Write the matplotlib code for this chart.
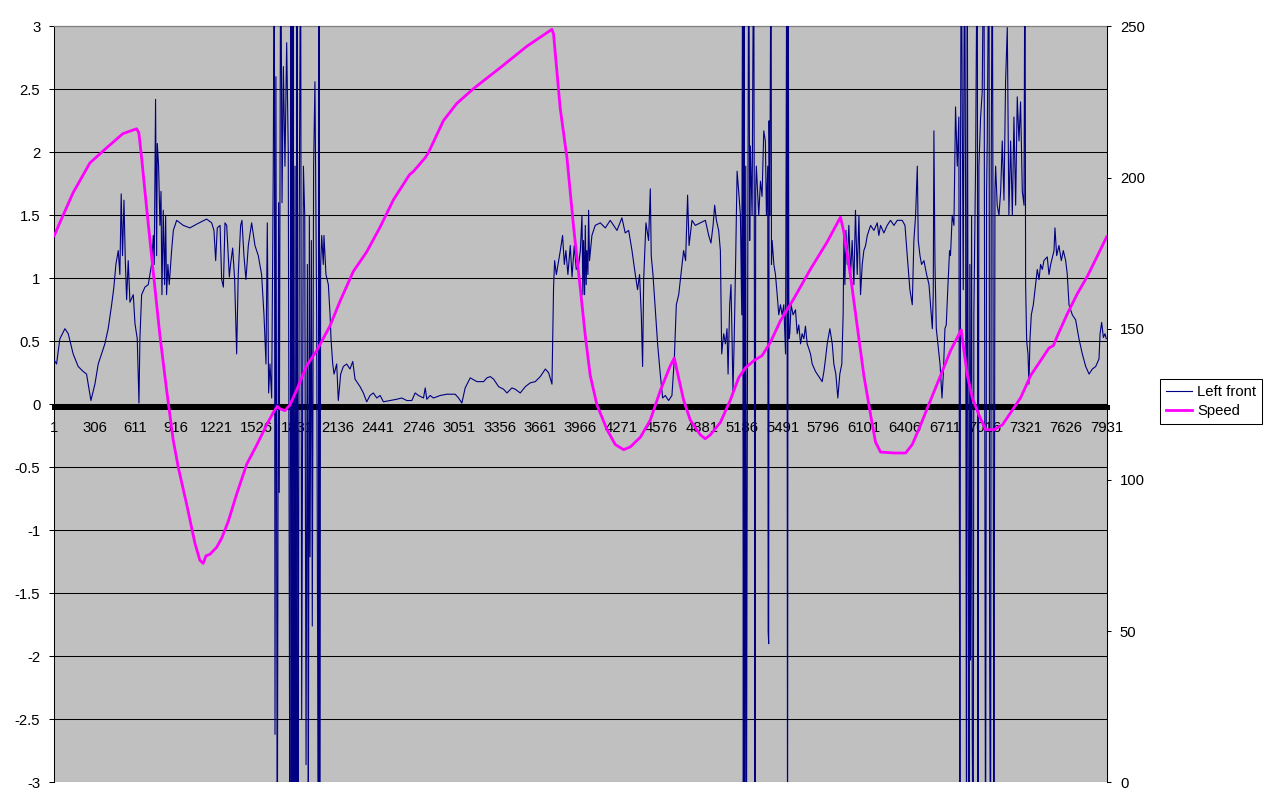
"""
plot.py  -  Left front sensor trace vs. Speed (Excel-style dual axis line chart).
"""

import matplotlib
matplotlib.use("Agg")
import matplotlib.pyplot as plt

# ── data (sample index, value) ───────────────────────────────────────────────

LEFT_FRONT_IDX = [
    1, 18, 43, 81, 106, 143, 181, 219, 244, 277, 307, 332, 357, 382, 407, 433,
    450, 465, 483, 495, 505, 515, 526, 536, 546, 558, 571, 596, 609, 626, 639,
    646, 659, 684, 709, 734, 747, 754, 764, 772, 777, 787, 797, 805, 812, 822,
    832, 840, 847, 857, 867, 885, 898, 923, 973, 1023, 1074, 1149, 1187, 1204,
    1217, 1229, 1250, 1262, 1275, 1287, 1300, 1320, 1329, 1345, 1360, 1375,
    1387, 1405, 1415, 1430, 1445, 1463, 1488, 1513, 1538, 1563, 1581, 1596,
    1606, 1616, 1626, 1639, 1651, 1659, 1664, 1671, 1681, 1691, 1696, 1707,
    1717, 1727, 1739, 1752, 1764, 1777, 1784, 1792, 1800, 1807, 1815, 1822,
    1830, 1837, 1847, 1857, 1865, 1878, 1888, 1898, 1908, 1915, 1923, 1928,
    1938, 1945, 1955, 1965, 1978, 1991, 1996, 2001, 2008, 2016, 2028, 2033,
    2048, 2066, 2079, 2086, 2099, 2109, 2129, 2141, 2159, 2179, 2204, 2229,
    2250, 2267, 2305, 2330, 2355, 2380, 2405, 2431, 2456, 2481, 2531, 2581,
    2619, 2657, 2695, 2720, 2745, 2783, 2796, 2808, 2833, 2858, 2909, 2959,
    3022, 3047, 3072, 3097, 3135, 3185, 3236, 3261, 3286, 3311, 3349, 3386,
    3412, 3449, 3474, 3512, 3550, 3587, 3625, 3663, 3701, 3726, 3751, 3763,
    3771, 3784, 3801, 3814, 3831, 3844, 3856, 3871, 3889, 3902, 3919, 3934,
    3952, 3965, 3977, 3984, 3989, 3997, 4002, 4009, 4014, 4022, 4027, 4034,
    4052, 4077, 4115, 4153, 4190, 4241, 4278, 4303, 4329, 4354, 4379, 4396,
    4411, 4424, 4434, 4442, 4459, 4479, 4492, 4499, 4512, 4522, 4532, 4547,
    4567, 4585, 4605, 4630, 4655, 4673, 4688, 4706, 4723, 4743, 4758, 4773,
    4784, 4806, 4831, 4869, 4907, 4932, 4949, 4965, 4977, 4990, 5007, 5020,
    5030, 5045, 5058, 5070, 5078, 5090, 5100, 5108, 5115, 5125, 5135, 5146,
    5158, 5171, 5181, 5188, 5193, 5198, 5203, 5211, 5216, 5221, 5229, 5234,
    5241, 5246, 5259, 5271, 5276, 5281, 5286, 5291, 5309, 5322, 5334, 5347,
    5359, 5367, 5377, 5380, 5384, 5387, 5392, 5402, 5405, 5410, 5423, 5435,
    5448, 5460, 5473, 5485, 5498, 5511, 5521, 5526, 5531, 5536, 5543, 5553,
    5568, 5586, 5599, 5611, 5624, 5636, 5649, 5661, 5674, 5687, 5699, 5712,
    5737, 5762, 5787, 5800, 5812, 5825, 5845, 5863, 5875, 5890, 5905, 5920,
    5935, 5945, 5951, 5958, 5966, 5976, 5988, 6001, 6013, 6026, 6038, 6051,
    6064, 6076, 6089, 6101, 6114, 6127, 6152, 6177, 6202, 6214, 6227, 6252,
    6277, 6302, 6328, 6353, 6390, 6411, 6428, 6448, 6466, 6478, 6491, 6504,
    6511, 6524, 6536, 6554, 6574, 6592, 6609, 6617, 6624, 6629, 6637, 6647,
    6659, 6675, 6690, 6700, 6712, 6722, 6735, 6747, 6754, 6767, 6780, 6792,
    6805, 6817, 6825, 6830, 6835, 6842, 6850, 6860, 6868, 6875, 6880, 6893,
    6900, 6905, 6913, 6918, 6925, 6930, 6943, 6956, 6961, 6968, 6981, 6993,
    7006, 7018, 7026, 7031, 7044, 7049, 7056, 7061, 7069, 7074, 7081, 7089,
    7094, 7106, 7119, 7132, 7144, 7157, 7169, 7182, 7194, 7207, 7220, 7232,
    7245, 7257, 7270, 7282, 7295, 7308, 7315, 7320, 7328, 7338, 7345, 7353,
    7363, 7378, 7395, 7408, 7421, 7433, 7446, 7458, 7483, 7496, 7509, 7534,
    7541, 7554, 7571, 7589, 7604, 7622, 7634, 7647, 7672, 7697, 7722, 7747,
    7773, 7798, 7823, 7848, 7873, 7881, 7893, 7906, 7918, 7928,
]

LEFT_FRONT_VAL = [
    0.35, 0.32, 0.52, 0.60, 0.56, 0.40, 0.30, 0.26, 0.24, 0.03, 0.16, 0.32, 0.40, 0.48, 0.60, 0.79,
    0.93, 1.11, 1.22, 1.03, 1.67, 1.18, 1.62, 1.14, 0.83, 1.14, 0.81, 0.87, 0.64, 0.52, 0.01,
    0.52, 0.87, 0.93, 0.95, 1.11, 1.34, 1.11, 2.42, 1.18, 2.07, 1.89, 1.42, 1.69, 0.87, 1.54,
    0.95, 1.50, 0.87, 1.11, 0.95, 1.22, 1.38, 1.46, 1.42, 1.40, 1.43, 1.47, 1.44, 1.38,
    1.14, 1.40, 1.42, 0.99, 0.93, 1.44, 1.42, 1.01, 1.11, 1.24, 0.99, 0.40,
    1.03, 1.42, 1.46, 1.18, 0.99, 1.26, 1.44, 1.26, 1.18, 1.03, 0.71, 0.32,
    1.44, 0.09, 0.32, 0.05, 1.89, 4, -2.62, 2.60, -4, 1.60, -0.70, 4,
    1.60, 2.68, 1.89, 2.87, 2.01, -4, 4, -4, 4, -4, 1.89, -4,
    4, -4, 1.50, 4, -2.50, 1.89, 1.50, -2.86, 1.11, -3.50, 1.50, -1.21,
    1.30, -1.76, 1.89, 2.56, 0.71, -4, 4, -4, 1.11, 1.34, 1.11, 1.34,
    1.03, 0.95, 0.71, 0.52, 0.32, 0.24, 0.32, 0.03, 0.24, 0.30, 0.32, 0.28,
    0.34, 0.20, 0.14, 0.09, 0.02, 0.07, 0.09, 0.05, 0.07, 0.02, 0.03, 0.04,
    0.05, 0.03, 0.03, 0.09, 0.07, 0.05, 0.13, 0.04, 0.07, 0.05, 0.07, 0.08,
    0.08, 0.05, 0.01, 0.13, 0.21, 0.18, 0.18, 0.21, 0.22, 0.20, 0.14, 0.12,
    0.09, 0.13, 0.12, 0.09, 0.14, 0.17, 0.18, 0.22, 0.28, 0.25, 0.16, 0.93,
    1.14, 1.03, 1.14, 1.22, 1.34, 1.11, 1.22, 1.03, 1.26, 1.01, 1.26, 1.07,
    1.11, 1.22, 1.50, 0.87, 1.30, 0.87, 1.42, 0.95, 1.22, 1.03, 1.54, 1.14,
    1.34, 1.42, 1.44, 1.40, 1.46, 1.38, 1.48, 1.36, 1.38, 1.22, 1.03, 0.91,
    1.03, 0.71, 0.30, 0.99, 1.44, 1.30, 1.71, 1.18, 1.03, 0.87, 0.71, 0.48,
    0.24, 0.05, 0.07, 0.03, 0.07, 0.36, 0.79, 0.87, 1.03, 1.22, 1.14, 1.66,
    1.26, 1.46, 1.42, 1.44, 1.46, 1.34, 1.28, 1.42, 1.58, 1.46, 1.38, 1.22,
    0.40, 0.56, 0.48, 0.60, 0.24, 0.79, 0.95, 0.52, 0.09, 0.56, 1.14, 1.85,
    1.69, 1.50, 0.71, 4, -4, 4, -4, 1.89, -4, -1.00, 2.28, 4,
    1.30, 2.05, 1.50, 4, 1.11, -4, 1.69, 1.89, 1.50, 1.77, 1.65, 2.17,
    2.09, 1.50, 1.89, -1.80, -1.90, 2.25, 1.50, 4, 1.11, 1.30, 1.11, 1.03,
    0.87, 0.71, 0.79, 0.71, 0.79, 0.40, 4, -4, 4, 0.52, 0.56, 0.79,
    0.71, 0.75, 0.56, 0.63, 0.48, 0.56, 0.52, 0.62, 0.48, 0.44, 0.40, 0.32,
    0.26, 0.22, 0.18, 0.26, 0.36, 0.48, 0.60, 0.48, 0.32, 0.24, 0.05, 0.24,
    0.32, 0.71, 1.34, 0.95, 1.38, 1.11, 1.42, 1.03, 1.30, 0.95, 1.54, 1.03,
    1.50, 0.87, 1.11, 1.22, 1.26, 1.34, 1.42, 1.38, 1.44, 1.34, 1.42, 1.36,
    1.42, 1.46, 1.42, 1.46, 1.46, 1.42, 1.18, 0.91, 0.79, 1.30, 1.50, 1.89,
    1.30, 1.18, 1.11, 1.14, 1.03, 0.95, 0.71, 0.60, 0.87, 2.17, 1.11, 0.60,
    0.48, 0.32, 0.05, 0.24, 0.60, 0.63, 0.95, 1.22, 1.18, 1.50, 1.42, 2.36,
    1.89, 2.28, -4, 2.09, 4, 2.44, 0.91, 4, 1.50, -4, 4, -4,
    1.11, -2.03, 1.50, -2.62, -4, 0.71, 1.89, 4, -4, 1.89, 2.28, 2.48,
    4, -4, 1.69, 2.09, 4, -1.96, -4, 1.89, 4, 1.50, -4, 1.69,
    1.89, 1.58, 1.50, 1.69, 2.09, 1.62, 2.56, 2.99, 1.50, 2.09, 1.50, 2.28,
    1.58, 2.44, 2.09, 2.40, 1.69, 1.58, 4, 0.95, 0.50, 0.40, 0.16, 0.52,
    0.71, 0.79, 0.95, 1.07, 0.99, 1.11, 1.07, 1.14, 1.17, 1.03, 1.11, 1.22,
    1.40, 1.18, 1.26, 1.14, 1.22, 1.14, 1.03, 0.79, 0.71, 0.67, 0.52, 0.40,
    0.30, 0.24, 0.28, 0.30, 0.36, 0.56, 0.65, 0.53, 0.56, 0.52,
]

SPEED_IDX = [
    1, 42, 143, 269, 395, 518, 621, 638, 659, 696, 746, 797, 847, 897, 935,
    998, 1061, 1098, 1123, 1144, 1174, 1224, 1262, 1312, 1375, 1451, 1526,
    1601, 1651, 1681, 1702, 1739, 1777, 1828, 1903, 1979, 2028, 2079, 2154,
    2255, 2330, 2356, 2456, 2556, 2677, 2707, 2795, 2820, 2933, 3034, 3160,
    3361, 3562, 3751, 3763, 3813, 3864, 3914, 3964, 4002, 4039, 4090, 4166,
    4228, 4291, 4341, 4417, 4492, 4568, 4643, 4673, 4693, 4743, 4793, 4869,
    4906, 4944, 5020, 5095, 5158, 5208, 5271, 5334, 5397, 5472, 5573, 5699,
    5825, 5925, 5950, 6001, 6051, 6101, 6152, 6189, 6227, 6327, 6416, 6466,
    6529, 6604, 6680, 6755, 6835, 6855, 6881, 6918, 6968, 7019, 7082, 7145,
    7208, 7283, 7359, 7434, 7496, 7529, 7560, 7635, 7710, 7785, 7861, 7931,
]

SPEED_VAL = [
    180.8, 185.0, 195.0, 204.8, 209.8, 214.5, 216.1, 214.8, 206.5, 190.2, 169.0, 147.7, 129.8, 113.2, 104.2,
    92.0, 79.0, 73.4, 72.4, 74.9, 75.4, 77.7, 80.7, 86.3, 95.3, 105.2, 111.5,
    118.2, 122.3, 124.3, 123.5, 122.9, 124.8, 129.8, 137.8, 142.8, 146.8, 151.0, 159.1,
    169.0, 173.8, 175.5, 183.6, 192.6, 200.9, 202.0, 206.5, 208.2, 218.8, 224.5, 229.4,
    236.3, 243.4, 249.0, 247.4, 222.9, 206.5, 183.6, 163.5, 147.7, 134.6, 124.8, 116.6,
    111.7, 110.0, 110.9, 114.1, 119.8, 129.6, 137.8, 140.3, 136.2, 126.4, 119.8, 114.9,
    113.6, 114.9, 119.0, 126.4, 133.8, 137.0, 139.4, 141.1, 145.5, 152.6, 159.9, 169.7,
    178.7, 186.9, 182.0, 167.3, 150.9, 134.6, 121.5, 112.5, 109.2, 108.9, 108.9, 111.7,
    118.2, 126.4, 134.6, 142.8, 149.6, 142.8, 134.6, 127.2, 121.5, 116.6, 116.6, 118.2,
    122.3, 127.2, 134.6, 139.5, 143.6, 144.4, 147.7, 155.0, 161.6, 167.3, 174.1, 180.4,
]

X_TICKS = list(range(1, 7932, 305))
Y_TICKS = [-3, -2.5, -2, -1.5, -1, -0.5, 0, 0.5, 1, 1.5, 2, 2.5, 3]
Y_TICK_LABELS = ["-3", "-2.5", "-2", "-1.5", "-1", "-0.5", "0",
                 "0.5", "1", "1.5", "2", "2.5", "3"]
SPEED_TICKS = [0, 50, 100, 150, 200, 250]

# ── style ────────────────────────────────────────────────────────────────────

plt.rcParams["font.family"] = ["Liberation Sans", "DejaVu Sans"]
plt.rcParams["axes.unicode_minus"] = False
FONT_SIZE = 10.7
NAVY = "#000080"
MAGENTA = "#FF00FF"
PLOT_BG = "#C0C0C0"

# ── figure ───────────────────────────────────────────────────────────────────

W, H = 1266, 802
fig = plt.figure(figsize=(W / 100, H / 100), dpi=100)
left, right, top, bottom = 54.3, 1106.7, 26.3, 782.3
ax = fig.add_axes([left / W, 1 - bottom / H, (right - left) / W, (bottom - top) / H])
ax.set_facecolor(PLOT_BG)

lf_line, = ax.plot(LEFT_FRONT_IDX, LEFT_FRONT_VAL, color=NAVY, lw=0.8,
                   label="Left front", zorder=3)

ax.set_xlim(1, 7931)
ax.set_ylim(-3, 3)
ax.set_yticks(Y_TICKS)
ax.set_yticklabels(Y_TICK_LABELS)
ax.set_xticks(X_TICKS)
ax.set_xticklabels([str(t) for t in X_TICKS])
ax.yaxis.grid(True, color="black", lw=0.75)
ax.set_axisbelow(True)

# x axis sits on the zero line, drawn as a thick black bar
ax.spines["bottom"].set_position(("data", -0.019))
ax.spines["bottom"].set_linewidth(3.6)
ax.spines["bottom"].set_color("black")
ax.spines["bottom"].set_zorder(2.5)
ax.spines["top"].set_color("#808080")
ax.spines["top"].set_linewidth(0.9)
ax.spines["right"].set_visible(False)
ax.spines["left"].set_linewidth(0.75)

ax.tick_params(axis="x", length=0, pad=10.5, labelsize=FONT_SIZE)
ax.tick_params(axis="y", direction="out", length=3.6, width=0.75, pad=6.5,
               labelsize=FONT_SIZE)

# speed on the secondary axis
ax2 = ax.twinx()
sp_line, = ax2.plot(SPEED_IDX, SPEED_VAL, color=MAGENTA, lw=2.0, label="Speed")
ax2.set_ylim(0, 250)
ax2.set_yticks(SPEED_TICKS)
for side in ("left", "top", "bottom"):
    ax2.spines[side].set_visible(False)
ax2.spines["right"].set_linewidth(0.75)
ax2.tick_params(axis="y", direction="out", length=3.0, width=0.75, pad=6.5,
                labelsize=FONT_SIZE)

leg = fig.legend(handles=[lf_line, sp_line], loc="upper left",
                 bbox_to_anchor=(1160 / W, 1 - 379.3 / H),
                 fontsize=FONT_SIZE, frameon=True, fancybox=False,
                 edgecolor="black", framealpha=1, borderpad=0.4,
                 labelspacing=0.35, handlelength=1.75, handletextpad=0.35,
                 borderaxespad=0)
leg.get_frame().set_linewidth(0.75)

fig.savefig("out.png", dpi=100)
